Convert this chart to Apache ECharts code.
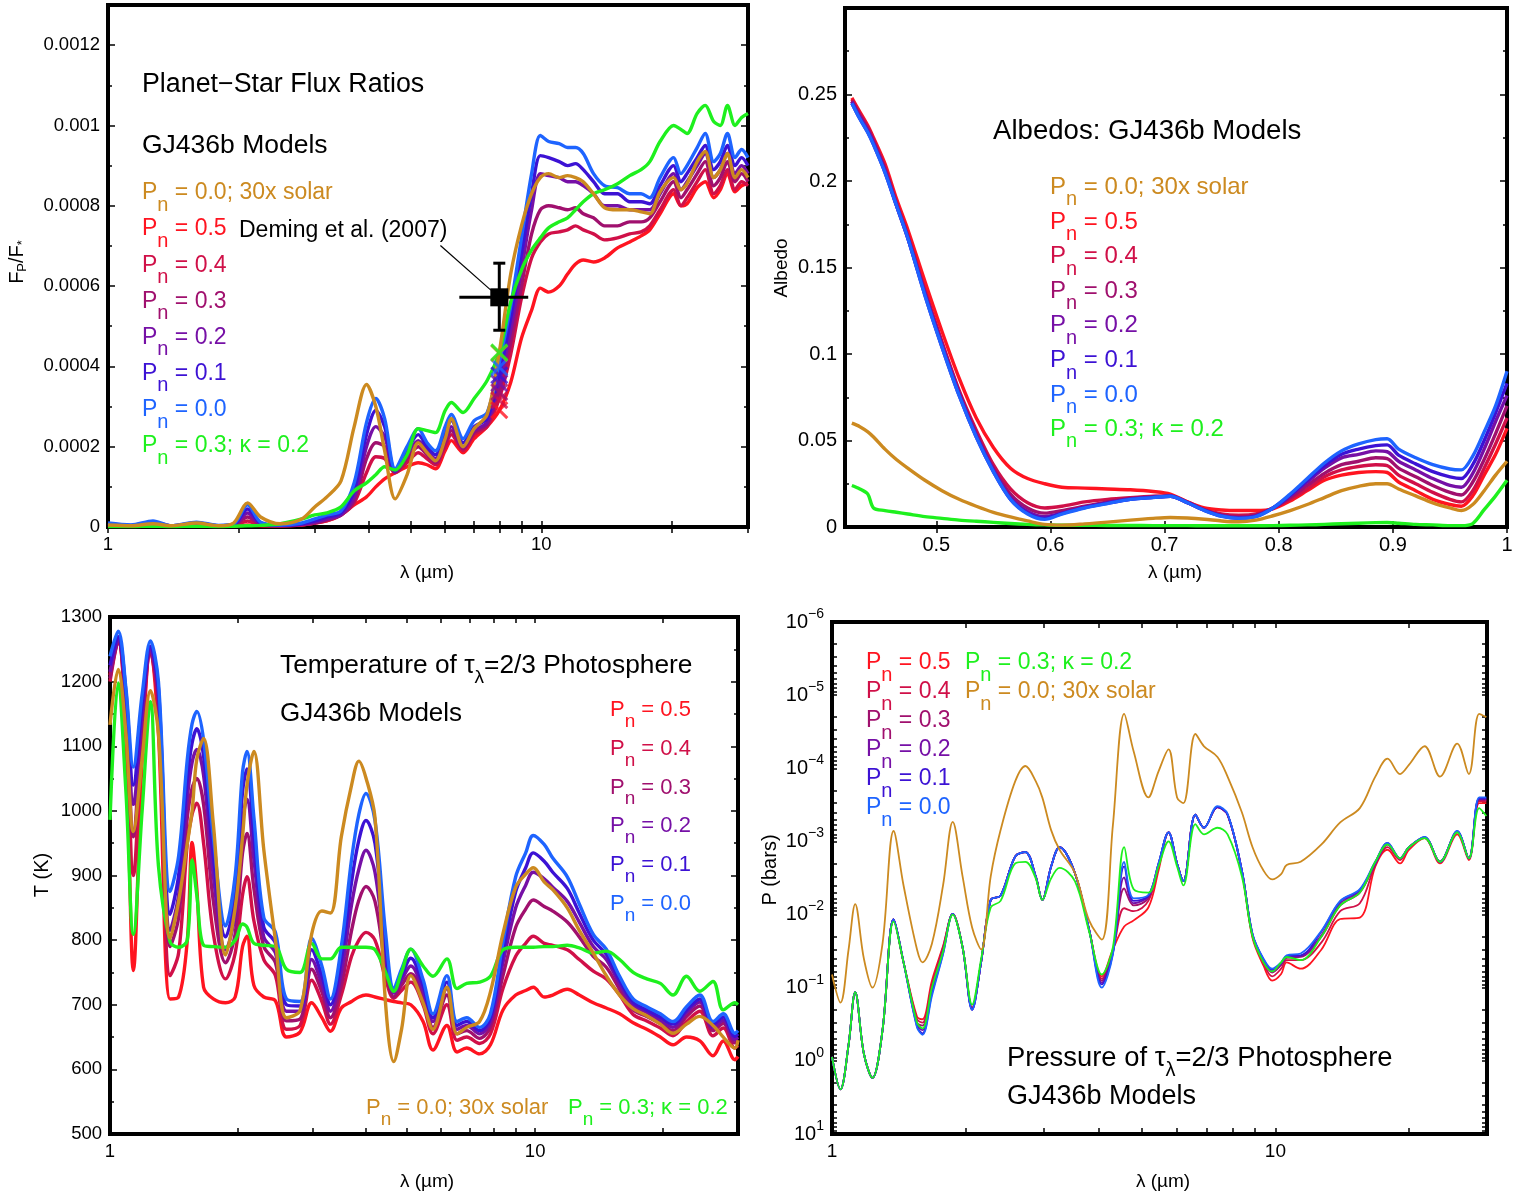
<!DOCTYPE html>
<html>
<head>
<meta charset="utf-8">
<title>GJ436b models</title>
<script src="https://cdn.jsdelivr.net/npm/echarts@6/dist/echarts.min.js"></script>
<style>
  html, body { margin: 0; padding: 0; background: #fff; }
  #main { width: 1530px; height: 1197px; }
</style>
</head>
<body>
<div id="main"></div>
<script>
// ---- panel 1: planet-star flux ratio (values in units of 1e-4) ----
const lamFlux = [1.0, 1.13, 1.27, 1.4, 1.6, 1.8, 1.95, 2.1, 2.25, 2.5,
  2.8, 3.0, 3.2, 3.45, 3.7, 3.95, 4.15, 4.35, 4.6, 4.9,
  5.2, 5.45, 5.7, 6.0, 6.2, 6.6, 7.0, 7.5, 8.0, 8.5,
  9.0, 9.5, 9.95, 10.4, 11.0, 11.5, 12.0, 12.5, 13.2, 14.0,
  15.0, 16.0, 17.0, 17.8, 18.8, 20.2, 21.0, 21.7, 22.9, 23.9,
  25.0, 25.9, 26.9, 28.0, 29.0, 30.0];
const fluxP05 = [0.02, 0.02, 0.03, 0.02, 0.03, 0.02, 0.02, 0.05, 0.03, 0.03,
  0.05, 0.1, 0.15, 0.3, 0.55, 0.75, 1.0, 1.2, 1.35, 1.5,
  1.6, 1.55, 1.45, 1.9, 2.15, 1.85, 2.2, 2.5, 2.9, 3.6,
  4.7, 5.4, 5.95, 5.85, 6.0, 6.3, 6.55, 6.65, 6.6, 6.7,
  6.95, 7.1, 7.25, 7.4, 7.8, 8.3, 8.0, 8.05, 8.45, 8.6,
  8.2, 8.4, 8.8, 8.35, 8.5, 8.55];
const fluxP04 = [0.03, 0.02, 0.05, 0.02, 0.04, 0.02, 0.03, 0.15, 0.04, 0.03,
  0.05, 0.1, 0.16, 0.3, 0.6, 1.35, 1.75, 1.7, 1.35, 1.6,
  1.85, 1.7, 1.55, 2.0, 2.3, 1.9, 2.3, 2.5, 3.2, 4.3,
  5.7, 6.7, 7.1, 7.3, 7.35, 7.4, 7.5, 7.4, 7.3, 7.15,
  7.2, 7.3, 7.35, 7.5, 7.9, 8.4, 8.0, 8.2, 8.6, 8.9,
  8.3, 8.5, 8.9, 8.4, 8.6, 8.5];
const fluxP03 = [0.05, 0.03, 0.07, 0.02, 0.06, 0.02, 0.04, 0.25, 0.06, 0.03,
  0.06, 0.1, 0.18, 0.3, 0.65, 1.7, 2.1, 2.0, 1.36, 1.7,
  2.0, 1.8, 1.6, 2.1, 2.4, 1.95, 2.35, 2.55, 3.4, 4.6,
  6.0, 7.3, 7.9, 8.0, 7.95, 7.9, 7.95, 7.8, 7.7, 7.5,
  7.5, 7.6, 7.6, 7.7, 8.1, 8.6, 8.2, 8.4, 8.8, 9.1,
  8.5, 8.7, 9.1, 8.6, 8.8, 8.6];
const fluxP02 = [0.06, 0.03, 0.1, 0.02, 0.08, 0.03, 0.05, 0.35, 0.08, 0.04,
  0.07, 0.12, 0.2, 0.3, 0.75, 2.0, 2.5, 2.25, 1.38, 1.8,
  2.15, 1.9, 1.7, 2.2, 2.5, 2.0, 2.4, 2.6, 3.6, 4.9,
  6.4, 7.9, 8.8, 8.75, 8.7, 8.6, 8.6, 8.5, 8.3, 8.0,
  8.0, 7.9, 7.9, 7.9, 8.3, 8.8, 8.4, 8.6, 9.0, 9.3,
  8.7, 8.9, 9.3, 8.8, 9.0, 8.8];
const fluxP01 = [0.08, 0.04, 0.12, 0.03, 0.1, 0.03, 0.06, 0.45, 0.1, 0.04,
  0.08, 0.15, 0.25, 0.35, 0.9, 2.3, 2.9, 2.5, 1.4, 1.9,
  2.3, 2.0, 1.8, 2.35, 2.65, 2.1, 2.5, 2.7, 3.8, 5.2,
  6.8, 8.3, 9.25, 9.2, 9.1, 9.0, 9.05, 8.9, 8.6, 8.3,
  8.3, 8.1, 8.1, 8.05, 8.5, 9.0, 8.6, 8.8, 9.2, 9.5,
  8.9, 9.1, 9.5, 9.0, 9.2, 9.0];
const fluxP00 = [0.1, 0.05, 0.15, 0.03, 0.12, 0.04, 0.08, 0.55, 0.12, 0.05,
  0.1, 0.2, 0.3, 0.4, 1.1, 2.6, 3.2, 2.7, 1.45, 2.0,
  2.45, 2.1, 1.9, 2.5, 2.8, 2.2, 2.65, 2.85, 4.1, 5.5,
  7.2, 8.8, 9.75, 9.6, 9.55, 9.45, 9.45, 9.3, 8.8, 8.5,
  8.45, 8.3, 8.3, 8.2, 8.7, 9.2, 8.8, 9.0, 9.45, 9.8,
  9.1, 9.3, 9.8, 9.2, 9.4, 9.2];
const fluxSolar = [0.05, 0.03, 0.08, 0.03, 0.1, 0.03, 0.1, 0.6, 0.25, 0.08,
  0.2, 0.5, 0.75, 1.15, 2.5, 3.55, 3.0, 1.9, 0.7, 1.3,
  2.1, 1.85, 1.65, 2.2, 2.7, 2.0, 2.45, 2.8, 4.35, 6.3,
  7.5, 8.3, 8.7, 8.8, 8.7, 8.75, 8.7, 8.6, 8.3, 7.95,
  7.9, 7.9, 7.85, 7.8, 8.35, 8.7, 8.4, 8.55, 9.1, 9.35,
  8.7, 8.9, 9.3, 8.7, 8.9, 8.7];
const fluxKappa = [0.01, 0.01, 0.02, 0.01, 0.02, 0.01, 0.02, 0.03, 0.04, 0.08,
  0.2, 0.3, 0.35, 0.5, 0.9, 1.1, 1.3, 1.5, 1.42, 1.8,
  2.45, 2.4, 2.35, 2.9, 3.1, 2.85, 3.2, 3.65, 4.35, 5.6,
  6.4, 6.9, 7.2, 7.45, 7.6, 7.7, 7.9, 8.1, 8.3, 8.4,
  8.55, 8.75, 8.9, 9.1, 9.6, 10.0, 9.9, 9.8, 10.3, 10.5,
  10.1, 10.0, 10.5, 10.0, 10.2, 10.3];
// band-averaged 8 micron model points (order: 0.5 .. 0.0, 30x solar, kappa)
const bandLam = 8.0;
const bandFlux = [2.91, 3.16, 3.36, 3.58, 3.78, 3.98, 4.33, 4.35];
// Deming et al. (2007) point: lam, flux, lamLo, lamHi, fluxLo, fluxHi
const deming = [8.0, 5.72, 6.47, 9.33, 4.9, 6.57];
const demingArrow = [[5.85, 7.01], [7.65, 5.9]];

// ---- panel 2: albedo ----
const lamAlb = [0.426, 0.433, 0.44, 0.445, 0.455, 0.465, 0.475, 0.49, 0.505, 0.52,
  0.535, 0.55, 0.565, 0.58, 0.595, 0.61, 0.63, 0.65, 0.67, 0.69,
  0.705, 0.72, 0.735, 0.75, 0.765, 0.78, 0.795, 0.81, 0.825, 0.84,
  0.855, 0.87, 0.885, 0.895, 0.905, 0.92, 0.935, 0.95, 0.96, 0.97,
  0.98, 0.99, 1.0];
const albP05 = [0.248, 0.24, 0.232, 0.225, 0.21, 0.19, 0.172, 0.142, 0.113, 0.086,
  0.063, 0.046, 0.034, 0.028, 0.025, 0.023, 0.0225, 0.022, 0.0215, 0.0205,
  0.019, 0.0145, 0.011, 0.0098, 0.0095, 0.0095, 0.0105, 0.015, 0.021, 0.027,
  0.03, 0.0315, 0.032, 0.0315, 0.026, 0.021, 0.016, 0.013, 0.012, 0.018,
  0.03, 0.042, 0.057];
const albP04 = [0.247, 0.239, 0.231, 0.224, 0.208, 0.188, 0.169, 0.137, 0.107, 0.079,
  0.056, 0.036, 0.022, 0.014, 0.011, 0.012, 0.0145, 0.016, 0.017, 0.0178,
  0.018, 0.0145, 0.01, 0.0075, 0.0068, 0.0075, 0.011, 0.016, 0.022, 0.029,
  0.033, 0.035, 0.036, 0.0355, 0.03, 0.025, 0.02, 0.016, 0.0145, 0.021,
  0.034, 0.048, 0.063];
const albP03 = [0.246, 0.238, 0.23, 0.223, 0.207, 0.187, 0.168, 0.136, 0.106, 0.078,
  0.054, 0.034, 0.019, 0.011, 0.008, 0.0095, 0.012, 0.0145, 0.0165, 0.0175,
  0.018, 0.0142, 0.0098, 0.0068, 0.0058, 0.0068, 0.011, 0.017, 0.024, 0.031,
  0.036, 0.038, 0.04, 0.0395, 0.034, 0.029, 0.024, 0.02, 0.0185, 0.026,
  0.039, 0.054, 0.07];
const albP02 = [0.246, 0.237, 0.229, 0.222, 0.206, 0.186, 0.167, 0.135, 0.105, 0.077,
  0.053, 0.033, 0.017, 0.009, 0.006, 0.008, 0.0115, 0.014, 0.0162, 0.0172,
  0.0178, 0.0141, 0.0097, 0.0065, 0.0053, 0.0064, 0.011, 0.018, 0.026, 0.034,
  0.04, 0.042, 0.044, 0.0435, 0.038, 0.033, 0.028, 0.024, 0.023, 0.031,
  0.045, 0.061, 0.076];
const albP01 = [0.245, 0.236, 0.228, 0.221, 0.205, 0.186, 0.167, 0.134, 0.104, 0.076,
  0.052, 0.032, 0.016, 0.008, 0.005, 0.0078, 0.0112, 0.0137, 0.016, 0.0171,
  0.0178, 0.014, 0.0096, 0.0063, 0.0051, 0.0062, 0.011, 0.0185, 0.027, 0.0355,
  0.042, 0.045, 0.047, 0.0475, 0.0415, 0.0365, 0.032, 0.029, 0.028, 0.036,
  0.05, 0.066, 0.083];
const albP00 = [0.245, 0.236, 0.228, 0.221, 0.205, 0.186, 0.167, 0.134, 0.104, 0.076,
  0.052, 0.032, 0.016, 0.0075, 0.0044, 0.0075, 0.011, 0.0135, 0.016, 0.017,
  0.0178, 0.014, 0.0095, 0.0062, 0.005, 0.006, 0.011, 0.019, 0.028, 0.037,
  0.044, 0.048, 0.0505, 0.051, 0.045, 0.04, 0.036, 0.0335, 0.033, 0.041,
  0.055, 0.07, 0.09];
const albSolar = [0.06, 0.058, 0.055, 0.052, 0.045, 0.039, 0.034, 0.027, 0.021, 0.016,
  0.012, 0.0085, 0.0058, 0.0035, 0.0015, 0.0011, 0.0018, 0.0028, 0.004, 0.005,
  0.0055, 0.0052, 0.0045, 0.0035, 0.003, 0.004, 0.0065, 0.0095, 0.013, 0.017,
  0.021, 0.0235, 0.025, 0.025, 0.022, 0.018, 0.014, 0.011, 0.0095, 0.013,
  0.021, 0.03, 0.038];
const albKappa = [0.024, 0.022, 0.019, 0.011, 0.0095, 0.0085, 0.0075, 0.006, 0.005, 0.004,
  0.0033, 0.0027, 0.002, 0.0015, 0.0012, 0.001, 0.001, 0.0009, 0.0009, 0.0008,
  0.0008, 0.0008, 0.0007, 0.0007, 0.0007, 0.0007, 0.0008, 0.001, 0.0012, 0.0015,
  0.0019, 0.0022, 0.0025, 0.0026, 0.0022, 0.0015, 0.0012, 0.0008, 0.0008, 0.002,
  0.01, 0.018, 0.027];

// ---- panel 3: temperature of tau=2/3 photosphere (K) ----
const lamTemp = [1.0, 1.045, 1.09, 1.135, 1.19, 1.245, 1.3, 1.385, 1.45, 1.52,
  1.56, 1.6, 1.66, 1.75, 1.87, 1.97, 2.05, 2.1, 2.18, 2.3,
  2.45, 2.6, 2.8, 2.98, 3.15, 3.3, 3.5, 3.7, 3.85, 4.0,
  4.2, 4.45, 4.65, 4.85, 5.1, 5.45, 5.75, 6.2, 6.55, 6.9,
  7.4, 7.85, 8.4, 9.0, 9.5, 9.9, 10.5, 11.0, 11.9, 12.7,
  13.7, 14.7, 15.8, 17.0, 18.3, 19.7, 21.1, 22.7, 24.4, 26.2,
  27.7, 29.5, 30.0];
const tempP05 = [1210, 1265, 1110, 753, 1080, 1251, 1120, 709, 712, 800,
  951, 880, 727, 709, 703, 712, 790, 806, 730, 712,
  706, 650, 658, 703, 680, 659, 695, 705, 712, 715,
  712, 708, 705, 703, 700, 674, 630, 668, 627, 633,
  624, 638, 692, 715, 722, 727, 712, 715, 724, 715,
  703, 695, 686, 672, 662, 650, 638, 650, 644, 621,
  644, 615, 620];
const tempP04 = [1200, 1262, 1145, 900, 1120, 1245, 1150, 745, 780, 950,
  995, 1012, 950, 810, 740, 780, 870, 898, 830, 770,
  745, 662, 668, 738, 705, 670, 715, 775, 800, 812,
  800, 740, 710, 722, 735, 700, 655, 700, 645, 650,
  640, 655, 725, 775, 795, 806, 795, 792, 785, 770,
  752, 740, 715, 685, 675, 664, 652, 674, 690, 652,
  664, 633, 637];
const tempP03 = [1205, 1262, 1165, 960, 1140, 1245, 1170, 790, 835, 990,
  1035, 1050, 1010, 860, 765, 810, 935, 965, 880, 790,
  765, 675, 678, 755, 720, 680, 730, 815, 862, 883,
  860, 758, 712, 730, 748, 714, 665, 715, 655, 660,
  648, 666, 745, 820, 848, 862, 852, 845, 828, 805,
  775, 758, 724, 692, 682, 671, 660, 682, 698, 660,
  671, 641, 645];
const tempP02 = [1215, 1265, 1175, 1010, 1150, 1250, 1180, 815, 870, 1020,
  1075, 1095, 1055, 900, 785, 840, 985, 1018, 925, 805,
  780, 690, 690, 770, 732, 690, 750, 855, 910, 939,
  905, 775, 718, 738, 760, 722, 674, 725, 662, 668,
  655, 674, 765, 850, 885, 905, 895, 882, 860, 828,
  790, 770, 732, 699, 688, 676, 665, 688, 704, 665,
  676, 646, 650];
const tempP01 = [1225, 1270, 1185, 1040, 1165, 1255, 1190, 840, 900, 1050,
  1105, 1127, 1085, 930, 805, 870, 1030, 1065, 960, 820,
  795, 700, 698, 785, 745, 700, 770, 890, 955, 985,
  950, 790, 722, 745, 772, 730, 680, 735, 668, 674,
  660, 680, 780, 875, 912, 935, 922, 905, 880, 842,
  800, 778, 738, 704, 692, 681, 670, 692, 709, 670,
  681, 651, 655];
const tempP00 = [1239, 1278, 1190, 1068, 1180, 1263, 1200, 875, 930, 1080,
  1135, 1154, 1110, 960, 822, 900, 1060, 1092, 990, 835,
  812, 709, 705, 803, 760, 709, 790, 925, 995, 1027,
  985, 810, 725, 755, 786, 739, 686, 745, 674, 680,
  665, 686, 797, 898, 935, 962, 948, 927, 898, 856,
  809, 786, 744, 709, 697, 686, 674, 697, 715, 674,
  686, 656, 660];
const tempSolar = [1133, 1219, 1120, 968, 1080, 1186, 1120, 803, 860, 950,
  1000, 1080, 1112, 980, 777, 850, 960, 1040, 1092, 940,
  800, 680, 691, 809, 845, 842, 960, 1040, 1077, 1051,
  990, 700, 612, 662, 745, 703, 662, 727, 655, 665,
  674, 720, 810, 882, 902, 912, 890, 878, 850, 815,
  780, 745, 715, 694, 683, 670, 656, 670, 682, 668,
  650, 633, 645];
const tempKappa = [986, 1198, 1030, 809, 1000, 1169, 915, 797, 789, 800,
  924, 870, 792, 790, 789, 800, 825, 820, 795, 792,
  790, 755, 750, 795, 771, 771, 789, 789, 789, 789,
  785, 750, 721, 750, 786, 760, 744, 771, 725, 733,
  735, 744, 785, 789, 789, 789, 790, 790, 792, 788,
  780, 783, 770, 750, 740, 733, 715, 744, 721, 736,
  692, 703, 700];

// ---- panel 4: pressure of tau=2/3 photosphere (bars) ----
const lamPres = [1.0, 1.045, 1.09, 1.128, 1.18, 1.234, 1.3, 1.377, 1.45, 1.555,
  1.6, 1.68, 1.78, 1.872, 1.97, 2.07, 2.17, 2.28, 2.4, 2.59,
  2.73, 2.88, 2.98, 3.12, 3.26, 3.53, 3.8, 4.06, 4.3, 4.56,
  4.79, 5.17, 5.45, 5.74, 6.0, 6.2, 6.6, 6.9, 7.4, 7.8,
  8.4, 8.88, 9.4, 9.83, 10.3, 10.6, 11.4, 12.7, 14.0, 15.5,
  16.8, 17.9, 19.1, 20.0, 21.7, 23.5, 25.7, 27.3, 28.8, 29.9];
const presP05 = [0.88, 2.45, 0.6, 0.115, 0.8, 1.71, 0.38, 0.0116, 0.045, 0.25,
  0.27, 0.08, 0.027, 0.0098, 0.028, 0.19, 0.044, 0.0063, 0.0055, 0.0016,
  0.0014, 0.003, 0.0063, 0.0022, 0.0012, 0.0027, 0.016, 0.07, 0.03, 0.0146,
  0.012, 0.008, 0.0025, 0.00075, 0.002, 0.0035, 0.00043, 0.00065, 0.00034, 0.00043,
  0.0026, 0.021, 0.05, 0.08, 0.065, 0.045, 0.055, 0.03, 0.0115, 0.011,
  0.0022, 0.0013, 0.002, 0.0013, 0.0009, 0.002, 0.0008, 0.0018, 0.0003, 0.0003];
const presP04 = [0.88, 2.45, 0.6, 0.115, 0.8, 1.71, 0.38, 0.0116, 0.045, 0.27,
  0.3, 0.09, 0.028, 0.0098, 0.028, 0.19, 0.044, 0.0063, 0.0055, 0.0016,
  0.0014, 0.003, 0.0063, 0.0022, 0.0012, 0.0027, 0.016, 0.075, 0.031, 0.0082,
  0.009, 0.0065, 0.0022, 0.00075, 0.002, 0.0035, 0.00043, 0.00065, 0.00034, 0.00043,
  0.0025, 0.02, 0.046, 0.07, 0.055, 0.042, 0.042, 0.024, 0.009, 0.007,
  0.0021, 0.0012, 0.0018, 0.0012, 0.00089, 0.0019, 0.00075, 0.0017, 0.00028, 0.00028];
const presP03 = [0.88, 2.45, 0.6, 0.115, 0.8, 1.71, 0.38, 0.0116, 0.045, 0.3,
  0.33, 0.1, 0.03, 0.0098, 0.028, 0.19, 0.044, 0.0063, 0.0055, 0.0016,
  0.0014, 0.003, 0.0063, 0.0022, 0.0012, 0.0027, 0.016, 0.08, 0.032, 0.0044,
  0.0075, 0.006, 0.0021, 0.00075, 0.002, 0.0035, 0.00043, 0.00065, 0.00034, 0.00043,
  0.0025, 0.019, 0.043, 0.062, 0.049, 0.039, 0.038, 0.02, 0.0075, 0.005,
  0.002, 0.0011, 0.0017, 0.0012, 0.00088, 0.0019, 0.00073, 0.0017, 0.00027, 0.00027];
const presP02 = [0.88, 2.45, 0.6, 0.115, 0.8, 1.71, 0.38, 0.0116, 0.045, 0.32,
  0.38, 0.11, 0.032, 0.0098, 0.028, 0.2, 0.044, 0.0063, 0.0055, 0.0016,
  0.0014, 0.003, 0.0063, 0.0022, 0.0012, 0.0027, 0.016, 0.085, 0.033, 0.0031,
  0.007, 0.0056, 0.002, 0.00075, 0.002, 0.0035, 0.00043, 0.00065, 0.00034, 0.00043,
  0.0025, 0.019, 0.042, 0.06, 0.047, 0.038, 0.037, 0.019, 0.007, 0.0048,
  0.002, 0.0011, 0.0017, 0.0012, 0.00088, 0.0019, 0.00073, 0.0017, 0.00026, 0.00026];
const presP01 = [0.88, 2.45, 0.6, 0.115, 0.8, 1.71, 0.38, 0.0116, 0.045, 0.34,
  0.42, 0.12, 0.034, 0.0098, 0.028, 0.2, 0.044, 0.0063, 0.0055, 0.0016,
  0.0014, 0.003, 0.0063, 0.0022, 0.0012, 0.0027, 0.016, 0.09, 0.034, 0.0022,
  0.0065, 0.0055, 0.002, 0.00075, 0.002, 0.0035, 0.00043, 0.00065, 0.00034, 0.00043,
  0.0025, 0.0185, 0.041, 0.057, 0.046, 0.037, 0.036, 0.017, 0.0066, 0.0046,
  0.0019, 0.00105, 0.0017, 0.0012, 0.00088, 0.0019, 0.00073, 0.0017, 0.00026, 0.00026];
const presP00 = [0.88, 2.45, 0.6, 0.115, 0.8, 1.71, 0.38, 0.0116, 0.045, 0.35,
  0.44, 0.13, 0.035, 0.0098, 0.028, 0.2, 0.044, 0.0063, 0.0055, 0.0016,
  0.0014, 0.003, 0.0063, 0.0022, 0.0012, 0.0027, 0.016, 0.1, 0.035, 0.0019,
  0.006, 0.0054, 0.002, 0.00075, 0.002, 0.0035, 0.00043, 0.00065, 0.00033, 0.00042,
  0.0025, 0.0185, 0.04, 0.055, 0.045, 0.036, 0.034, 0.0166, 0.0065, 0.0045,
  0.0019, 0.00105, 0.0017, 0.0012, 0.00087, 0.0019, 0.00072, 0.0017, 0.00025, 0.00025];
const presSolar = [0.066, 0.16, 0.03, 0.0072, 0.04, 0.1, 0.025, 0.00072, 0.004, 0.03,
  0.045, 0.025, 0.004, 0.00054, 0.003, 0.015, 0.03, 0.003, 0.0007, 0.00015,
  0.000093, 0.00015, 0.00025, 0.0007, 0.0013, 0.0027, 0.012, 0.022, 0.0006, 0.000018,
  0.000059, 0.00025, 0.00011, 0.000055, 0.00025, 0.0003, 0.000034, 0.00005, 0.00007, 0.00013,
  0.0004, 0.0012, 0.0025, 0.0033, 0.0028, 0.0021, 0.0019, 0.0011, 0.00055, 0.00035,
  0.00013, 0.000074, 0.00012, 0.00009, 0.00005, 0.00013, 0.000046, 0.00012, 0.000018, 0.00002];
const presKappa = [0.88, 2.45, 0.6, 0.115, 0.8, 1.71, 0.38, 0.0125, 0.045, 0.3,
  0.36, 0.1, 0.032, 0.01, 0.028, 0.17, 0.04, 0.008, 0.0065, 0.002,
  0.0019, 0.0032, 0.0063, 0.0032, 0.0023, 0.0035, 0.017, 0.066, 0.028, 0.0012,
  0.0045, 0.005, 0.0022, 0.001, 0.0022, 0.004, 0.00058, 0.0008, 0.00065, 0.0008,
  0.003, 0.02, 0.045, 0.06, 0.045, 0.038, 0.042, 0.02, 0.0075, 0.005,
  0.0019, 0.0011, 0.0017, 0.0012, 0.0009, 0.0019, 0.00075, 0.0017, 0.00035, 0.00045];

// tick positions
const logTicksX = [1, 2, 3, 4, 5, 6, 7, 8, 9, 10, 20, 30];
const albTicksX = [0.5, 0.6, 0.7, 0.8, 0.9, 1.0];
const presTicksY = [];
for (let e = -6; e <= 0; e++) {
  for (let m = 1; m <= 9; m++) presTicksY.push(+(m * Math.pow(10, e)).toPrecision(3));
}
presTicksY.push(10);

const FONT = "'Liberation Sans', Arial, Helvetica, sans-serif";
const C = {
  p05: '#ff1420', p04: '#d01048', p03: '#a0106e', p02: '#7610a6',
  p01: '#3c12d4', p00: '#1e64ff', solar: '#cc8a20', kappa: '#1ef01e'
};

const GRIDS = [
  { left: 108, top: 5, width: 640, height: 522 },
  { left: 845, top: 8, width: 662, height: 519 },
  { left: 110, top: 617, width: 628, height: 517 },
  { left: 832, top: 622, width: 655, height: 512 }
];

const tickStyle = { color: '#000', width: 1.5 };

function xAxisFor(gi, pos, showLabel, extra) {
  return Object.assign({
    gridIndex: gi, position: pos,
    axisLine: { show: false },
    axisTick: { show: true, inside: true, length: 6, lineStyle: tickStyle },
    axisLabel: { show: showLabel, color: '#000', fontFamily: FONT, fontSize: 18.5, margin: 8, showMaxLabel: false },
    splitLine: { show: false }
  }, extra);
}
function logX(gi, pos, showLabel, fs) {
  const a = xAxisFor(gi, pos, showLabel, { type: 'log', logBase: 10, min: 1, max: 30 });
  a.axisTick.customValues = logTicksX;
  a.axisLabel.fontSize = fs;
  return a;
}
function yAxisFor(gi, pos, showLabel, extra) {
  return Object.assign({
    gridIndex: gi, position: pos,
    axisLine: { show: false },
    axisTick: { show: true, inside: true, length: 7, lineStyle: tickStyle },
    minorTick: { show: true, splitNumber: 2, length: 4, lineStyle: tickStyle },
    axisLabel: { show: showLabel, color: '#000', fontFamily: FONT, fontSize: 18.5, margin: 8 },
    splitLine: { show: false }, minorSplitLine: { show: false }
  }, extra);
}

const fluxFmt = v => (v === 0 ? '0' : (v * 1e-4).toFixed(4).replace(/0+$/, ''));
const presFmt = v => {
  const e = Math.round(Math.log10(v));
  return '10{u|' + (e < 0 ? '\u2212' + (-e) : String(e)) + '}';
};

const xAxes = [
  logX(0, 'bottom', true, 18.5),
  (() => { const a = xAxisFor(1, 'bottom', true, { type: 'value', min: 0.42, max: 1.0 });
    a.axisTick.customValues = albTicksX; a.axisLabel.customValues = albTicksX;
    a.axisLabel.fontSize = 20; a.axisLabel.showMaxLabel = true; a.axisLabel.formatter = v => String(+v.toFixed(2)); return a; })(),
  logX(2, 'bottom', true, 18.5),
  logX(3, 'bottom', true, 19),
  logX(0, 'top', false, 18),
  (() => { const a = xAxisFor(1, 'top', false, { type: 'value', min: 0.42, max: 1.0 });
    a.axisTick.customValues = albTicksX; return a; })(),
  logX(2, 'top', false, 18),
  logX(3, 'top', false, 18)
];

function yFlux(pos, show) {
  const a = yAxisFor(0, pos, show, { type: 'value', min: 0, max: 13, interval: 2 });
  a.axisLabel.formatter = fluxFmt; a.axisLabel.showMaxLabel = false; return a;
}
function yAlb(pos, show) {
  const a = yAxisFor(1, pos, show, { type: 'value', min: 0, max: 0.3, interval: 0.05 });
  a.axisLabel.fontSize = 20; a.axisLabel.showMaxLabel = false;
  a.axisLabel.formatter = v => String(+v.toFixed(2)); return a;
}
function yTemp(pos, show) {
  const a = yAxisFor(2, pos, show, { type: 'value', min: 500, max: 1300, interval: 100 });
  a.axisLabel.formatter = v => String(v); return a;
}
function yPres(pos, show) {
  const a = yAxisFor(3, pos, show, { type: 'log', logBase: 10, min: 1e-6, max: 10, inverse: true });
  a.minorTick = { show: false };
  a.axisTick.customValues = presTicksY;
  a.axisTick.length = 5;
  a.axisLabel.fontSize = 20;
  a.axisLabel.formatter = presFmt;
  a.axisLabel.rich = { u: { fontSize: 14, fontFamily: FONT, color: '#000', padding: [0, 0, 16, 0] } };
  return a;
}
const yAxes = [yFlux('left', true), yAlb('left', true), yTemp('left', true), yPres('left', true),
  yFlux('right', false), yAlb('right', false), yTemp('right', false), yPres('right', false)];

function pairs(lam, vals) { return lam.map((l, i) => [l, vals[i]]); }
function line(gi, lam, vals, color, width, smooth) {
  return {
    type: 'line', xAxisIndex: gi, yAxisIndex: gi, data: pairs(lam, vals),
    showSymbol: false, symbol: 'none', smooth: smooth, silent: true,
    lineStyle: { color: color, width: width, join: 'round' }, z: 3
  };
}

const order = ['p05', 'p04', 'p03', 'p02', 'p01', 'p00', 'kappa', 'solar'];
const fluxSets = { p05: fluxP05, p04: fluxP04, p03: fluxP03, p02: fluxP02, p01: fluxP01, p00: fluxP00, solar: fluxSolar, kappa: fluxKappa };
const albSets = { p05: albP05, p04: albP04, p03: albP03, p02: albP02, p01: albP01, p00: albP00, solar: albSolar, kappa: albKappa };
const tempSets = { p05: tempP05, p04: tempP04, p03: tempP03, p02: tempP02, p01: tempP01, p00: tempP00, solar: tempSolar, kappa: tempKappa };
const presSets = { p05: presP05, p04: presP04, p03: presP03, p02: presP02, p01: presP01, p00: presP00, solar: presSolar, kappa: presKappa };

const series = [];
order.forEach(k => series.push(line(0, lamFlux, fluxSets[k], C[k], 3.4, 0.3)));
order.forEach(k => series.push(line(1, lamAlb, albSets[k], C[k], 3.4, 0.3)));
order.forEach(k => series.push(line(2, lamTemp, tempSets[k], C[k], 3.4, 0.35)));
order.forEach(k => series.push(line(3, lamPres, presSets[k], C[k], 1.8, 0.35)));

// band-averaged X markers at 8 microns
['p05', 'p04', 'p03', 'p02', 'p01', 'p00', 'solar', 'kappa'].forEach((k, i) => {
  series.push({
    type: 'scatter', xAxisIndex: 0, yAxisIndex: 0, data: [[bandLam, bandFlux[i]]],
    symbol: 'path://M0,0L10,10M10,0L0,10', symbolSize: 16, silent: true,
    itemStyle: { color: 'rgba(0,0,0,0)', borderColor: C[k], borderWidth: 3 }, z: 5
  });
});

// Deming et al. (2007) measurement with error bars and arrow
series.push({
  type: 'custom', xAxisIndex: 0, yAxisIndex: 0, coordinateSystem: 'cartesian2d',
  data: [deming], encode: { x: 0, y: 1 }, z: 6, silent: true,
  renderItem: function (params, api) {
    const c = api.coord([api.value(0), api.value(1)]);
    const l = api.coord([api.value(2), api.value(1)]);
    const r = api.coord([api.value(3), api.value(1)]);
    const lo = api.coord([api.value(0), api.value(4)]);
    const hi = api.coord([api.value(0), api.value(5)]);
    const st = { stroke: '#000', lineWidth: 3 };
    return {
      type: 'group', children: [
        { type: 'line', shape: { x1: l[0], y1: l[1], x2: r[0], y2: r[1] }, style: st },
        { type: 'line', shape: { x1: lo[0], y1: lo[1], x2: hi[0], y2: hi[1] }, style: st },
        { type: 'line', shape: { x1: lo[0] - 6, y1: lo[1], x2: lo[0] + 6, y2: lo[1] }, style: st },
        { type: 'line', shape: { x1: hi[0] - 6, y1: hi[1], x2: hi[0] + 6, y2: hi[1] }, style: st },
        { type: 'rect', shape: { x: c[0] - 9, y: c[1] - 9, width: 18, height: 18 }, style: { fill: '#000' } }
      ]
    };
  },
  markLine: {
    silent: true, animation: false, symbol: ['none', 'arrow'], symbolSize: [0, 16],
    label: { show: false }, lineStyle: { color: '#000', width: 1.2, type: 'solid' },
    data: [[{ coord: demingArrow[0] }, { coord: demingArrow[1] }]]
  }
});

// ---- text helpers ----
function rt(x, y, tokens, size, color, opt) {
  opt = opt || {};
  const subSize = opt.subSize || Math.round(size * 0.85);
  const subDrop = opt.subDrop != null ? opt.subDrop : size * 1.05;
  return {
    type: 'text', x: x, y: y, rotation: opt.rot || 0, z: 50, silent: true,
    style: {
      text: tokens.map(t => '{' + t[1] + '|' + t[0] + '}').join(''),
      fill: color, align: opt.align || 'left', verticalAlign: 'middle',
      fontSize: size, fontFamily: FONT,
      rich: {
        m: { fontSize: size, fontFamily: FONT, fill: color },
        s: { fontSize: subSize, fontFamily: FONT, fill: color, padding: [subDrop, 0, 0, 0] }
      }
    }
  };
}
function pn(x, y, rest, color, size) {
  return rt(x, y, [['P', 'm'], ['n', 's'], [rest, 'm']], size, color);
}
const plain = (x, y, s, size, color, opt) => rt(x, y, [[s, 'm']], size, color || '#000', opt);

const labelsSolar = ' = 0.0; 30x solar', labelsKappa = ' = 0.3; \u03ba = 0.2';
const pnRest = { p05: ' = 0.5', p04: ' = 0.4', p03: ' = 0.3', p02: ' = 0.2', p01: ' = 0.1', p00: ' = 0.0' };
const stackOrder = ['p05', 'p04', 'p03', 'p02', 'p01', 'p00'];

const g = [];
// panel 1
g.push(plain(142, 85, 'Planet\u2212Star Flux Ratios', 26.8));
g.push(plain(142, 146, 'GJ436b Models', 26.5));
g.push(pn(142, 193, labelsSolar, C.solar, 23));
stackOrder.forEach((k, i) => g.push(pn(142, 229 + i * 36.2, pnRest[k], C[k], 23)));
g.push(pn(142, 446, labelsKappa, C.kappa, 23));
g.push(plain(239, 231, 'Deming et al. (2007)', 23));
// panel 2
g.push(plain(993, 131, 'Albedos: GJ436b Models', 27.6));
g.push(pn(1050, 187, labelsSolar, C.solar, 24));
stackOrder.forEach((k, i) => g.push(pn(1050, 222 + i * 34.6, pnRest[k], C[k], 24)));
g.push(pn(1050, 429, labelsKappa, C.kappa, 24));
// panel 3
g.push(rt(280, 666, [['Temperature of \u03c4', 'm'], ['\u03bb', 's'], ['=2/3 Photosphere', 'm']], 26.3, '#000', { subSize: 19, subDrop: 24 }));
g.push(plain(280, 714, 'GJ436b Models', 26));
stackOrder.forEach((k, i) => g.push(pn(610, 710 + i * 38.8, pnRest[k], C[k], 22)));
g.push(pn(366, 1108, labelsSolar, C.solar, 22));
g.push(pn(568, 1108, labelsKappa, C.kappa, 22));
// panel 4
stackOrder.forEach((k, i) => g.push(pn(866, 663 + i * 29, pnRest[k], C[k], 23)));
g.push(pn(965, 663, labelsKappa, C.kappa, 23));
g.push(pn(965, 692, labelsSolar, C.solar, 23));
g.push(rt(1007, 1058, [['Pressure of \u03c4', 'm'], ['\u03bb', 's'], ['=2/3 Photosphere', 'm']], 27.4, '#000', { subSize: 20, subDrop: 24 }));
g.push(plain(1007, 1097, 'GJ436b Models', 27));
// axis names
g.push(rt(17, 262, [['F', 'm'], ['P', 's'], ['/F', 'm'], ['*', 's']], 20, '#000', { rot: Math.PI / 2, align: 'center', subSize: 13, subDrop: 10 }));
g.push(plain(782, 268, 'Albedo', 19, '#000', { rot: Math.PI / 2, align: 'center' }));
g.push(plain(42, 875, 'T (K)', 20, '#000', { rot: Math.PI / 2, align: 'center' }));
g.push(plain(770, 870, 'P (bars)', 20, '#000', { rot: Math.PI / 2, align: 'center' }));
g.push(plain(427, 573, '\u03bb (\u00b5m)', 19, '#000', { align: 'center' }));
g.push(plain(1175, 573, '\u03bb (\u00b5m)', 19, '#000', { align: 'center' }));
g.push(plain(427, 1182, '\u03bb (\u00b5m)', 19, '#000', { align: 'center' }));
g.push(plain(1163, 1182, '\u03bb (\u00b5m)', 19, '#000', { align: 'center' }));

const chart = echarts.init(document.getElementById('main'), null, { renderer: 'canvas' });
chart.setOption({
  animation: false,
  backgroundColor: '#fff',
  textStyle: { fontFamily: FONT },
  grid: GRIDS.map(gr => Object.assign({
    show: true, borderColor: '#000', borderWidth: 4, backgroundColor: 'rgba(0,0,0,0)',
    containLabel: false, outerBoundsMode: 'none'
  }, gr)),
  xAxis: xAxes,
  yAxis: yAxes,
  series: series,
  graphic: { elements: g }
});
</script>
</body>
</html>
